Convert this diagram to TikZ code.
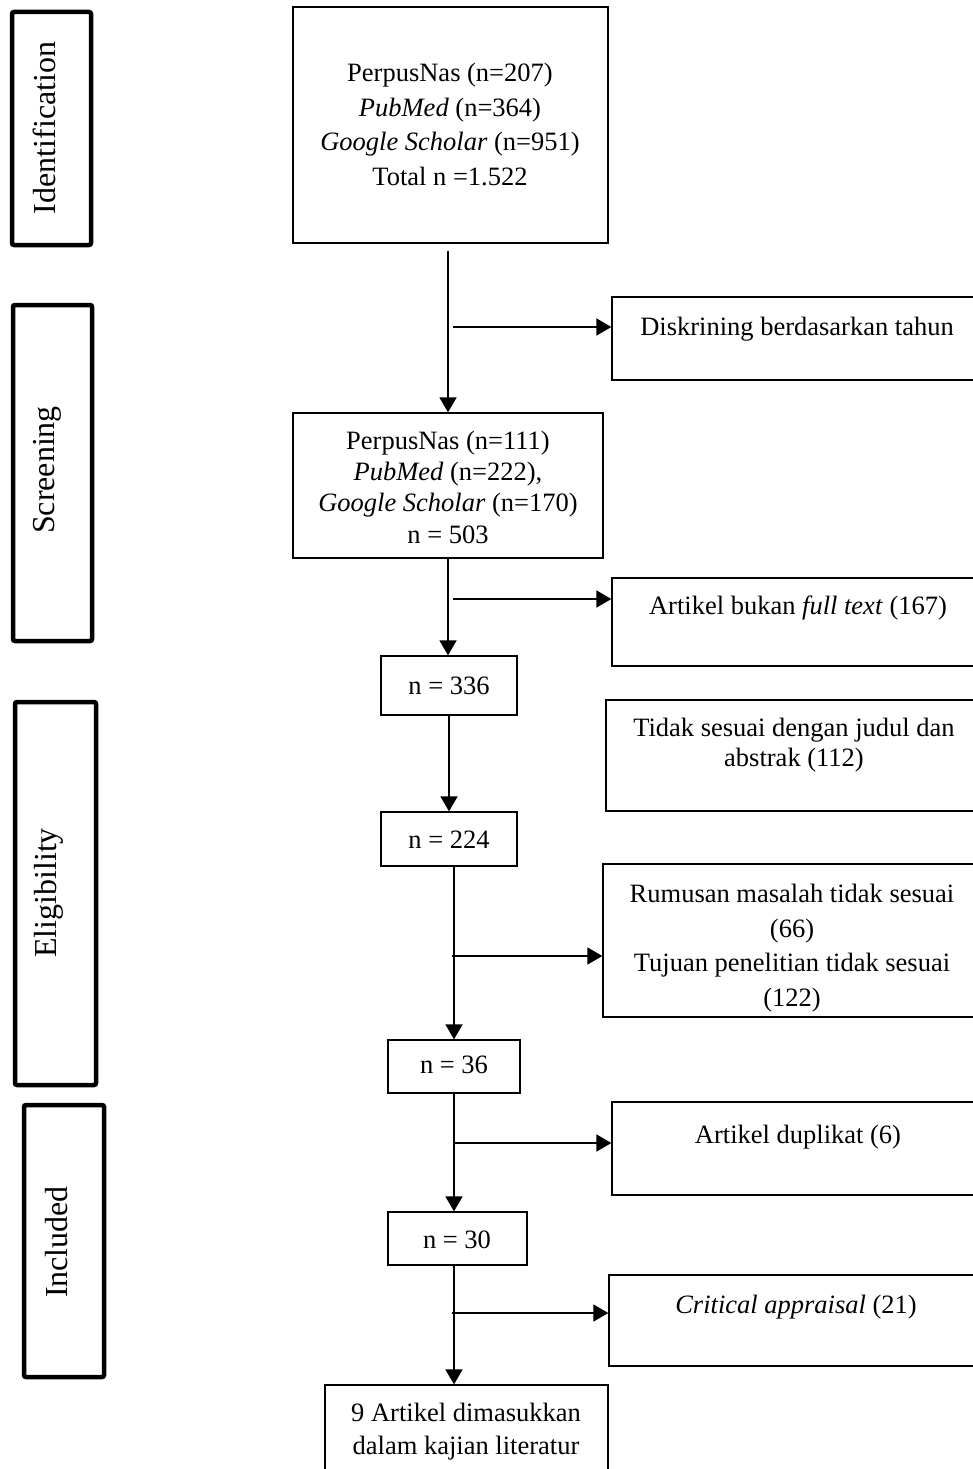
\documentclass[tikz,border=0pt]{standalone}
\usepackage{fontspec}
\setmainfont{Liberation Serif}
\usetikzlibrary{arrows.meta,fit}
\begin{document}
\begin{tikzpicture}[x=1pt,y=-1pt,
  box/.style={draw, line width=1.3pt, inner sep=0pt},
  stage/.style={draw, line width=4.5pt, rounded corners=2pt, inner sep=0pt},
  txt/.style={font=\fontsize{26.5}{34.7}\selectfont, align=center, inner sep=0pt},
  one/.style={txt, text height=0.72em, text depth=0.22em},
  stagetxt/.style={font=\fontsize{32}{38}\selectfont, rotate=90, inner sep=0pt, text height=0.7em, text depth=0.22em},
  arr/.style={line width=1.8pt, -{Triangle[length=15pt,width=17pt]}},
]
\useasboundingbox (0,0) rectangle (972,1469);
\fill[white] (0,0) rectangle (972,1469);

% stage boxes
\node[stage, fit={(12,12) (91,245)}] (s1) {};
\node[stage, fit={(13,305) (92,641)}] (s2) {};
\node[stage, fit={(15,702) (96,1085)}] (s3) {};
\node[stage, fit={(24,1105) (104,1377)}] (s4) {};
\node[stagetxt] (s1t) at (53,128) {Identification};
\node[stagetxt] (s2t) at (52,470) {Screening};
\node[stagetxt] (s3t) at (54,893) {Eligibility};
\node[stagetxt] (s4t) at (65,1242) {Included};

% main column boxes
\node[box, fit={(293,7) (608,243)}] (b1) {};
\node[box, fit={(293,413) (603,558)}] (b2) {};
\node[box, fit={(381,656) (517,715)}] (b3) {};
\node[box, fit={(381,812) (517,866)}] (b4) {};
\node[box, fit={(388,1040) (520,1093)}] (b5) {};
\node[box, fit={(388,1212) (527,1265)}] (b6) {};
\node[box, fit={(325,1385) (608,1480)}] (b7) {};

% side boxes
\node[box, fit={(612,297) (982,380)}] (r1) {};
\node[box, fit={(612,578) (982,666)}] (r2) {};
\node[box, fit={(606,700) (982,811)}] (r3) {};
\node[box, fit={(603,864) (982,1017)}] (r4) {};
\node[box, fit={(612,1102) (982,1195)}] (r5) {};
\node[box, fit={(609,1275) (982,1366)}] (r6) {};

% texts
\node[txt] (b1t) at (450,124.5) {PerpusNas (n=207)\\\textit{PubMed} (n=364)\\\textit{Google Scholar} (n=951)\\Total n =1.522};
\node[txt, font=\fontsize{26.5}{31.3}\selectfont] (b2t) at (448,487) {PerpusNas (n=111)\\\textit{PubMed} (n=222),\\\textit{Google Scholar} (n=170)\\n = 503};
\node[one] (b3t) at (449,692) {n = 336};
\node[one] (b4t) at (449,846) {n = 224};
\node[one] (b5t) at (454,1071) {n = 36};
\node[one] (b6t) at (457,1246) {n = 30};
\node[txt, font=\fontsize{26.5}{33}\selectfont] (b7t) at (466,1431.5) {9 Artikel dimasukkan\\dalam kajian literatur};

\node[one] (r1t) at (797,333) {Diskrining berdasarkan tahun};
\node[one] (r2t) at (798,612) {Artikel bukan \textit{full text} (167)};
\node[txt, font=\fontsize{26.5}{30}\selectfont] (r3t) at (794,745) {Tidak sesuai dengan judul dan\\abstrak (112)};
\node[txt] (r4t) at (792,948) {Rumusan masalah tidak sesuai\\(66)\\Tujuan penelitian tidak sesuai\\(122)};
\node[one] (r5t) at (798,1141) {Artikel duplikat (6)};
\node[one] (r6t) at (796,1311) {\textit{Critical appraisal} (21)};

% vertical connectors
\draw[arr] (b1.south -| b2.north) ++(0,7) -- (b2.north);
\draw[arr] (b2.south) -- (b2.south |- b3.north);
\draw[arr] (b3.south) -- (b4.north);
\draw[arr] (b5.north |- b4.south) -- (b5.north);
\draw[arr] (b5.south) -- (b5.south |- b6.north);
\draw[arr] (b5.south |- b6.south) -- (b5.south |- b7.north);

% side connectors
\coordinate (j1) at (453,327);
\coordinate (j2) at (453,599);
\coordinate (j3) at (452,956);
\coordinate (j4) at (454,1143);
\coordinate (j5) at (452,1313);
\draw[arr] (j1) -- (j1 -| r1.west);
\draw[arr] (j2) -- (j2 -| r2.west);
\draw[arr] (j3) -- (j3 -| r4.west);
\draw[arr] (j4) -- (j4 -| r5.west);
\draw[arr] (j5) -- (j5 -| r6.west);
\end{tikzpicture}
\end{document}
